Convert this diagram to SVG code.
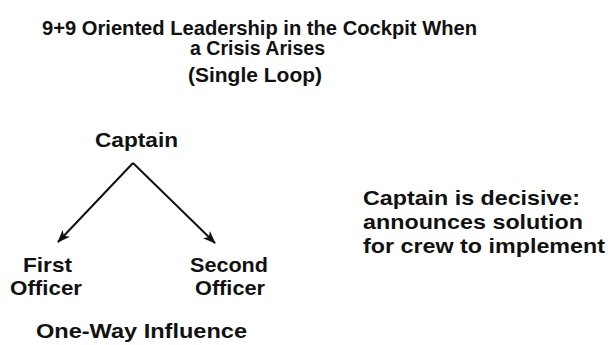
<svg xmlns="http://www.w3.org/2000/svg" width="608" height="345" viewBox="0 0 608 345">
<style>
text{font-family:"Liberation Sans",Arial,sans-serif;font-weight:bold;fill:#111;font-size:21px}
.t{font-size:20px}
.ln{stroke:#111;stroke-width:2;fill:none}
</style>
<defs>
<marker id="ah" viewBox="0 0 13 11" refX="12" refY="5.5" markerWidth="13" markerHeight="11" orient="auto" markerUnits="userSpaceOnUse">
<path d="M0,0.5 L13,5.5 L0,10.5 L3.5,5.5 Z" fill="#111"/>
</marker>
</defs>
<rect width="608" height="345" fill="#fff"/>
<g id="title">
<text class="t" x="42" y="35" textLength="435" lengthAdjust="spacingAndGlyphs">9+9 Oriented Leadership in the Cockpit When</text>
<text class="t" x="190" y="55" textLength="135" lengthAdjust="spacingAndGlyphs">a Crisis Arises</text>
<text class="t" x="188" y="82" textLength="134" lengthAdjust="spacingAndGlyphs">(Single Loop)</text>
</g>
<g id="captain"><text x="95" y="147" textLength="83" lengthAdjust="spacingAndGlyphs">Captain</text></g>
<g id="first-officer"><text x="23" y="272" textLength="49" lengthAdjust="spacingAndGlyphs">First</text><text x="10" y="295" textLength="72" lengthAdjust="spacingAndGlyphs">Officer</text></g>
<g id="second-officer"><text x="190" y="272" textLength="78" lengthAdjust="spacingAndGlyphs">Second</text><text x="195" y="295" textLength="70" lengthAdjust="spacingAndGlyphs">Officer</text></g>
<g id="caption"><text x="36" y="338" textLength="211" lengthAdjust="spacingAndGlyphs">One-Way Influence</text></g>
<g id="note">
<text x="363" y="205" textLength="217" lengthAdjust="spacingAndGlyphs">Captain is decisive:</text>
<text x="363" y="229" textLength="220" lengthAdjust="spacingAndGlyphs">announces solution</text>
<text x="363" y="253" textLength="242" lengthAdjust="spacingAndGlyphs">for crew to implement</text>
</g>
<g id="connectors">
<line class="ln" x1="133" y1="163" x2="58" y2="242" marker-end="url(#ah)"/>
<line class="ln" x1="133" y1="163" x2="215" y2="243" marker-end="url(#ah)"/>
</g>
</svg>
